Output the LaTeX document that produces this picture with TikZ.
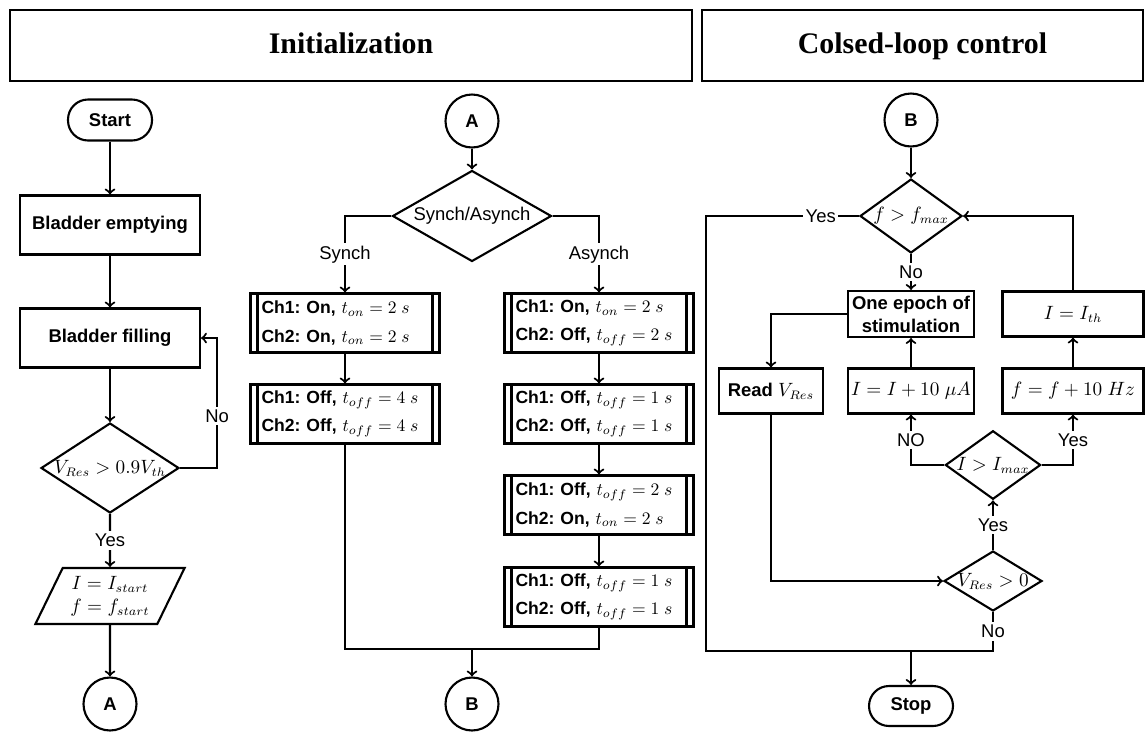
\documentclass[tikz,border=0pt]{standalone}
\usepackage{fontspec}
\setmainfont{Liberation Sans}
\newfontfamily\headfont{Liberation Serif}
\usetikzlibrary{shapes.geometric}

\begin{document}
\frenchspacing
\begin{tikzpicture}[x=0.02cm,y=-0.02cm,line width=1.2pt,
    every node/.style={font=\fontsize{10.5}{13}\selectfont},
    head/.style={draw,minimum height=1.42cm,text height=0.42cm,text depth=0.12cm,
        font=\headfont\fontsize{17}{20}\selectfont\bfseries},
    term/.style={draw,rounded corners=0.4cm,minimum width=1.68cm,font=\fontsize{10.5}{13}\selectfont\bfseries},
    proc/.style={draw,align=center,inner sep=1pt,font=\fontsize{10.5}{13}\selectfont\bfseries},
    conn/.style={draw,circle,minimum size=1.06cm,inner sep=0pt,font=\fontsize{10.5}{13}\selectfont\bfseries},
    dec/.style={draw,diamond,inner sep=0pt},
    chbox/.style={draw,align=left,text width=3.34cm,inner xsep=0.22cm,inner ysep=2pt,minimum height=1.18cm,
        font=\fontsize{10}{16}\selectfont,
        path picture={
            \draw ([xshift=4pt]path picture bounding box.north west) -- ([xshift=4pt]path picture bounding box.south west);
            \draw ([xshift=-4pt]path picture bounding box.north east) -- ([xshift=-4pt]path picture bounding box.south east);
        }},
    lbl/.style={fill=white,inner sep=1.5pt}]

    \path[use as bounding box,fill=white] (0,0) rectangle (1147,731);

    % headers
    \node[head,minimum width=13.64cm] (H1) at (351,45.5) {Initialization};
    \node[head,minimum width=8.82cm] (H2) at (922.5,45.5) {Colsed-loop control};

    % initialization, first part
    \node[term,minimum height=0.82cm] (St) at (110,120) {Start};
    \node[proc,minimum width=3.6cm,minimum height=1.18cm] (BE) at (110,225) {Bladder emptying};
    \node[proc,minimum width=3.6cm,minimum height=1.18cm] (BF) at (110,338) {Bladder filling};
    \node[dec,aspect=1.53,minimum width=2.76cm,minimum height=1.8cm] (D1) at (110,468) {$V_{Res} > 0.9V_{th}$};
    \node[draw,trapezium,trapezium left angle=63,trapezium right angle=117,trapezium stretches=true,
        minimum width=3cm,minimum height=1.12cm,align=center] (P1) at (110,596) {$I = I_{start}$\\$f = f_{start}$};
    \node[conn] (A1) at (110,704) {A};

    \draw[->] (St) -- (BE);
    \draw[->] (BE) -- (BF);
    \draw[->] (BF) -- (D1);
    \draw[->] (D1) -- node[lbl]{Yes} (P1);
    \draw[->] (D1.east) -- ++(37,0) |- node[lbl,pos=0.2]{No} (BF.east);
    \draw[->] (P1) -- (A1);

    % initialization, stimulation pattern
    \node[conn] (A2) at (472,121) {A};
    \node[dec,aspect=1.75,minimum width=3.18cm,minimum height=1.82cm] (D2) at (472,216) {Synch/Asynch};
    \node[chbox] (S1) at (345,323) {\textbf{Ch1: On,} $t_{on} = 2\;s$\\\textbf{Ch2: On,} $t_{on} = 2\;s$};
    \node[chbox] (S2) at (345,414) {\textbf{Ch1: Off,} $t_{off} = 4\;s$\\\textbf{Ch2: Off,} $t_{off} = 4\;s$};
    \node[chbox] (As1) at (599,323) {\textbf{Ch1: On,} $t_{on} = 2\;s$\\\textbf{Ch2: Off,} $t_{off} = 2\;s$};
    \node[chbox] (As2) at (599,414) {\textbf{Ch1: Off,} $t_{off} = 1\;s$\\\textbf{Ch2: Off,} $t_{off} = 1\;s$};
    \node[chbox] (As3) at (599,505) {\textbf{Ch1: Off,} $t_{off} = 2\;s$\\\textbf{Ch2: On,} $t_{on} = 2\;s$};
    \node[chbox] (As4) at (599,597) {\textbf{Ch1: Off,} $t_{off} = 1\;s$\\\textbf{Ch2: Off,} $t_{off} = 1\;s$};
    \node[conn] (B1) at (472,704) {B};
    \coordinate (M1) at (472,649);

    \draw[->] (A2) -- (D2);
    \draw[->] (D2.west) -| node[lbl,pos=0.75]{Synch} (S1.north);
    \draw[->] (D2.east) -| node[lbl,pos=0.75]{Asynch} (As1.north);
    \draw[->] (S1) -- (S2);
    \draw[->] (As1) -- (As2);
    \draw[->] (As2) -- (As3);
    \draw[->] (As3) -- (As4);
    \draw (S2.south) |- (M1) -| (As4.south);
    \draw[->] (M1) -- (B1);

    % closed-loop control
    \node[conn] (B2) at (911,120) {B};
    \node[dec,aspect=1.38,minimum width=2.04cm,minimum height=1.48cm] (D3) at (911,216) {$f > f_{max}$};
    \node[proc,minimum width=2.52cm,minimum height=0.92cm] (OE) at (911,314) {One epoch of\\stimulation};
    \node[proc,minimum width=2.82cm,minimum height=0.9cm] (Ith) at (1073,314) {$I = I_{th}$};
    \node[proc,minimum width=2.08cm,minimum height=0.9cm] (RV) at (771,391) {Read $V_{Res}$};
    \node[proc,minimum width=2.52cm,minimum height=0.9cm] (II) at (911,391) {$I = I + 10\;\mu A$};
    \node[proc,minimum width=2.82cm,minimum height=0.9cm] (FF) at (1073,391) {$f = f + 10\;Hz$};
    \node[dec,aspect=1.39,minimum width=1.84cm,minimum height=1.32cm] (D4) at (993,465) {$I > I_{max}$};
    \node[dec,aspect=1.63,minimum width=1.96cm,minimum height=1.2cm] (D5) at (993,581) {$V_{Res} > 0$};
    \node[term,minimum height=0.8cm] (Stop) at (911,706) {Stop};
    \coordinate (M2) at (911,651);

    \draw[->] (B2) -- (D3);
    \draw[->] (D3) -- node[lbl]{No} (OE);
    \draw (D3.west) -- node[lbl,pos=0.25]{Yes} ++(-153,0) |- (M2);
    \draw[->] (OE.west) -| (RV.north);
    \draw[->] (II) -- (OE);
    \draw[->] (FF) -- (Ith);
    \draw[->] (Ith.north) |- (D3.east);
    \draw[->] (D4.west) -| node[lbl,pos=0.75]{NO} (II.south);
    \draw[->] (D4.east) -| node[lbl,pos=0.75]{Yes} (FF.south);
    \draw[->] (D5) -- node[lbl]{Yes} (D4);
    \draw[->] (RV.south) |- (D5.west);
    \draw (D5.south) -- node[lbl]{No} (D5.south |- M2) -- (M2);
    \draw[->] (M2) -- (Stop);
\end{tikzpicture}
\end{document}
